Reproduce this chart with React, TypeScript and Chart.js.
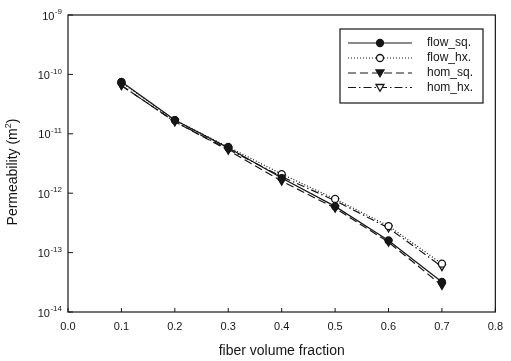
import React, { useEffect, useRef } from "react";
import { Chart, registerables } from "chart.js";

Chart.register(...registerables);

const fractions = [0.1, 0.2, 0.3, 0.4, 0.5, 0.6, 0.7];
const flowSq = [7.5e-11, 1.7e-11, 5.8e-12, 1.8e-12, 6.0e-13, 1.6e-13, 3.2e-14];
const flowHx = [7.3e-11, 1.7e-11, 6.0e-12, 2.1e-12, 8.0e-13, 2.8e-13, 6.5e-14];
const homSq = [6.5e-11, 1.6e-11, 5.3e-12, 1.6e-12, 5.6e-13, 1.5e-13, 2.8e-14];
const homHx = [6.5e-11, 1.6e-11, 5.5e-12, 1.9e-12, 7.5e-13, 2.6e-13, 5.8e-14];
const seriesNames = ["flow_sq.", "flow_hx.", "hom_sq.", "hom_hx."];
const yExponents = [-9, -10, -11, -12, -13, -14];
const xTickValues = [0, 0.1, 0.2, 0.3, 0.4, 0.5, 0.6, 0.7, 0.8];
const xTitle = "fiber volume fraction";
const yTitle = "Permeability (m";

const FONT = "'Liberation Sans', Arial, sans-serif";
const INK = "#161616";

function drawMarker(ctx: CanvasRenderingContext2D, style: string, filled: boolean, x: number, y: number, r: number) {
  ctx.save();
  ctx.setLineDash([]);
  ctx.beginPath();
  if (style === "circle") {
    ctx.arc(x, y, r, 0, Math.PI * 2);
  } else {
    ctx.moveTo(x - r, y - r * 0.75);
    ctx.lineTo(x + r, y - r * 0.75);
    ctx.lineTo(x, y + r * 0.95);
    ctx.closePath();
  }
  ctx.fillStyle = filled ? INK : "#fff";
  ctx.fill();
  ctx.lineWidth = 1.3;
  ctx.strokeStyle = INK;
  ctx.stroke();
  ctx.restore();
}

const decorPlugin = {
  id: "decor",
  afterDatasetsDraw(chart: any) {
    const { ctx, chartArea: a, scales } = chart;
    const ys = scales.y;
    const xs = scales.x;
    ctx.save();
    // frame
    ctx.strokeStyle = INK;
    ctx.lineWidth = 1.2;
    ctx.setLineDash([]);
    ctx.strokeRect(a.left, a.top, a.right - a.left, a.bottom - a.top);
    // y ticks (inward)
    ctx.lineWidth = 1;
    for (const e of yExponents) {
      const py = ys.getPixelForValue(Math.pow(10, e));
      ctx.beginPath();
      ctx.moveTo(a.left, py);
      ctx.lineTo(a.left + 5, py);
      ctx.stroke();
      if (e > -9) {
        for (let m = 2; m <= 9; m++) {
          const v = m * Math.pow(10, e);
          const pm = ys.getPixelForValue(v);
          ctx.beginPath();
          ctx.moveTo(a.left, pm);
          ctx.lineTo(a.left + 3, pm);
          ctx.stroke();
        }
      }
    }
    // x ticks (inward)
    for (const v of xTickValues) {
      const px = xs.getPixelForValue(v);
      ctx.beginPath();
      ctx.moveTo(px, a.bottom);
      ctx.lineTo(px, a.bottom - 4);
      ctx.stroke();
    }
    // y tick labels with superscript exponents
    ctx.fillStyle = INK;
    ctx.textBaseline = "middle";
    for (const e of yExponents) {
      const py = ys.getPixelForValue(Math.pow(10, e));
      ctx.font = `8px ${FONT}`;
      const expText = String(e);
      const ew = ctx.measureText(expText).width;
      const right = a.left - 6;
      ctx.textAlign = "left";
      ctx.fillText(expText, right - ew, py - 3);
      ctx.font = `11px ${FONT}`;
      ctx.textAlign = "right";
      ctx.fillText("10", right - ew - 0.5, py + 1.5);
    }
    // x title
    ctx.font = `14px ${FONT}`;
    ctx.textAlign = "center";
    ctx.textBaseline = "middle";
    ctx.fillText(xTitle, (a.left + a.right) / 2, 351);
    // y title
    ctx.save();
    ctx.translate(13, 172);
    ctx.rotate(-Math.PI / 2);
    ctx.font = `14px ${FONT}`;
    const w1 = ctx.measureText(yTitle).width;
    ctx.font = `9px ${FONT}`;
    const w2 = ctx.measureText("2").width;
    ctx.font = `14px ${FONT}`;
    const w3 = ctx.measureText(")").width;
    const total = w1 + w2 + w3;
    let x0 = -total / 2;
    ctx.textAlign = "left";
    ctx.fillText(yTitle, x0, 0);
    ctx.font = `9px ${FONT}`;
    ctx.fillText("2", x0 + w1, -4);
    ctx.font = `14px ${FONT}`;
    ctx.fillText(")", x0 + w1 + w2, 0);
    ctx.restore();
    // legend
    const bx = 340, by = 29, bw = 143, bh = 74;
    ctx.lineWidth = 1.2;
    ctx.strokeRect(bx, by, bw, bh);
    const rows = [43, 58, 73, 87.5];
    chart.data.datasets.forEach((ds: any, i: number) => {
      const yy = rows[i];
      ctx.save();
      ctx.strokeStyle = INK;
      ctx.lineWidth = ds.borderWidth;
      ctx.setLineDash(ds.borderDash || []);
      ctx.beginPath();
      ctx.moveTo(348, yy);
      ctx.lineTo(412, yy);
      ctx.stroke();
      ctx.restore();
      drawMarker(ctx, ds.markerShape, ds.markerFilled, 380, yy, ds.markerShape === "circle" ? 3.5 : 4);
      ctx.font = `12px ${FONT}`;
      ctx.fillStyle = INK;
      ctx.textAlign = "left";
      ctx.textBaseline = "middle";
      ctx.fillText(ds.label, 427, yy);
    });
    ctx.restore();
  },
};

function makeDataset(label: string, values: number[], dash: number[], shape: string, filled: boolean) {
  return {
    label,
    data: fractions.map((f, i) => ({ x: f, y: values[i] })),
    borderColor: INK,
    borderWidth: 1.2,
    borderDash: dash,
    backgroundColor: filled ? INK : "#ffffff",
    pointBackgroundColor: filled ? INK : "#ffffff",
    pointBorderColor: INK,
    pointBorderWidth: 1.3,
    pointStyle: shape === "circle" ? "circle" : "triangle",
    pointRotation: shape === "circle" ? 0 : 180,
    pointRadius: shape === "circle" ? 3.5 : 4,
    tension: 0,
    markerShape: shape,
    markerFilled: filled,
  };
}

export default function App() {
  const ref = useRef<HTMLCanvasElement>(null);
  useEffect(() => {
    if (!ref.current) return;
    const chart = new Chart(ref.current, {
      type: "line",
      data: {
        datasets: [
          makeDataset(seriesNames[0], flowSq, [], "circle", true),
          makeDataset(seriesNames[1], flowHx, [1, 2], "circle", false),
          makeDataset(seriesNames[2], homSq, [8, 4], "triangle", true),
          makeDataset(seriesNames[3], homHx, [8, 3, 1.5, 3], "triangle", false),
        ] as any,
      },
      options: {
        responsive: false,
        animation: false,
        devicePixelRatio: 1,
        layout: { padding: { top: 15, right: 12, left: 0, bottom: 0 } },
        plugins: { legend: { display: false }, tooltip: { enabled: false } },
        scales: {
          x: {
            type: "linear",
            min: 0,
            max: 0.8,
            grid: { display: false, drawTicks: false },
            border: { display: false },
            afterBuildTicks: (s: any) => {
              s.ticks = xTickValues.map((v) => ({ value: v }));
            },
            afterFit: (s: any) => {
              s.height = 49;
            },
            ticks: {
              autoSkip: false,
              maxRotation: 0,
              padding: 8,
              color: INK,
              font: { family: FONT, size: 11 },
              callback: (v: any) => Number(v).toFixed(1),
            },
          },
          y: {
            type: "logarithmic",
            min: 1e-14,
            max: 1e-9,
            grid: { display: false, drawTicks: false },
            border: { display: false },
            ticks: { display: false },
            afterFit: (s: any) => {
              s.width = 68;
            },
          },
        },
      },
      plugins: [decorPlugin],
    });
    return () => chart.destroy();
  }, []);
  return (
    <div style={{ position: "fixed", left: 0, top: 0, width: 511, height: 361, background: "#fff" }}>
      <canvas ref={ref} width={511} height={361} />
    </div>
  );
}
